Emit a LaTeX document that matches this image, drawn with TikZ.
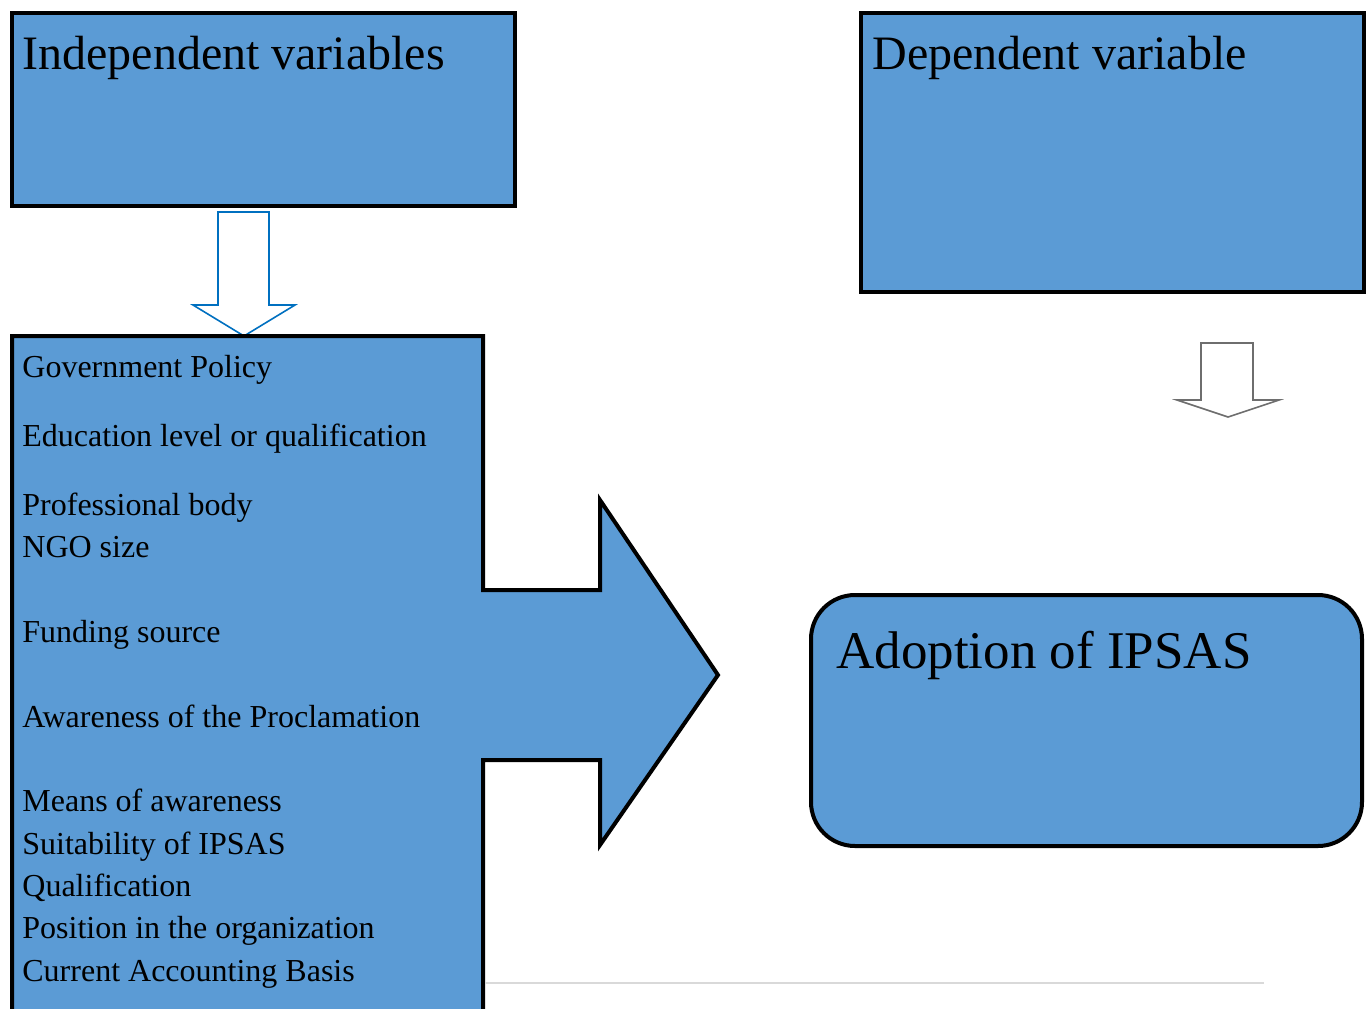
\documentclass[tikz,border=0pt]{standalone}
\usepackage{fontspec}
\setmainfont{Liberation Serif}
\definecolor{boxblue}{RGB}{91,155,213}
\definecolor{arrowblue}{RGB}{0,112,192}
\definecolor{arrowgrey}{RGB}{110,110,110}
\definecolor{rulegrey}{RGB}{217,217,217}

\begin{document}
\begin{tikzpicture}[x=0.5pt,y=-0.5pt,line join=miter,
    panel/.style={draw=black,line width=2pt,fill=boxblue},
    blockarrow/.style={line width=0.8pt,fill=white},
    headtext/.style={anchor=base west,inner sep=0pt,font=\fontsize{24}{28}\selectfont},
    itemtext/.style={anchor=base west,inner sep=0pt,font=\fontsize{16}{19}\selectfont}]
        \useasboundingbox (0,0) rectangle (1372,1008);
        \clip (0,0) rectangle (1372,1008);

        % upper boxes
        \draw[panel] (12,13) rectangle (515,206);
        \draw[panel] (861,13) rectangle (1364,292);
        \node[headtext] (indep) at (22,69) {Independent variables};
        \node[headtext] (dep) at (872,69) {Dependent variable};

        % small down arrows
        \draw[blockarrow,draw=arrowblue] (218,212) -- (269,212) -- (269,305) -- (295,305)
            -- (244,336) -- (193,305) -- (218,305) -- cycle;
        \draw[blockarrow,draw=arrowgrey] (1201,343) -- (1253,343) -- (1253,400) -- (1279,400)
            -- (1228,417) -- (1177,400) -- (1201,400) -- cycle;

        % variable list with the big arrow
        \draw[panel] (12,1030) -- (12,336) -- (483,336) -- (483,590) -- (600,590)
            -- (600,500) -- (718,675) -- (600,845) -- (600,760) -- (483,760) -- (483,1030);
        \foreach \y/\txt/\nm in {377/Government Policy/v1,
                446/Education level or qualification/v2,
                515/Professional body/v3,
                557/NGO size/v4,
                642/Funding source/v5,
                727/Awareness of the Proclamation/v6,
                811/Means of awareness/v7,
                854/Suitability of IPSAS/v8,
                896/Qualification/v9,
                938/Position in the organization/v10,
                981/Current Accounting Basis/v11}
            \node[itemtext] (\nm) at (22,\y) {\txt};

        % outcome
        \draw[panel,rounded corners=22pt] (811,595) rectangle (1362,846);
        \node[anchor=base west,inner sep=0pt,font=\fontsize{26.5}{31}\selectfont] (adopt)
            at (836,668) {Adoption of IPSAS};

        \draw[rulegrey,line width=1pt] (485,983) -- (1264,983);
\end{tikzpicture}
\end{document}
